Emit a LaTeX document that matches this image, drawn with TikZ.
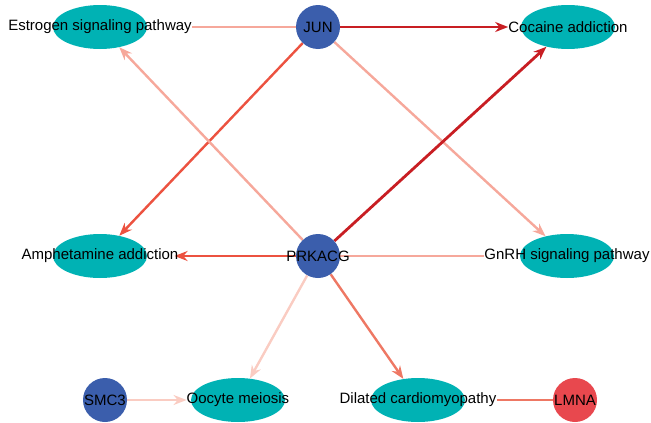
\documentclass[tikz,border=0pt]{standalone}
\usepackage{fontspec}
\setmainfont{Liberation Sans}
\usetikzlibrary{shapes.geometric, arrows.meta, positioning}
\definecolor{genblue}{RGB}{59,94,172}
\definecolor{pathteal}{RGB}{0,178,180}
\definecolor{genred}{RGB}{232,72,78}
\definecolor{edgedark}{RGB}{200,30,35}
\definecolor{edgered}{RGB}{236,82,64}
\definecolor{edgesalmon}{RGB}{238,120,100}
\definecolor{edgepink}{RGB}{246,168,155}
\definecolor{edgelight}{RGB}{250,204,194}
\pgfdeclarelayer{bg}
\pgfsetlayers{bg,main}

\begin{document}
\begin{tikzpicture}[
    x=1pt, y=-1pt,
    font=\fontsize{15}{18}\selectfont,
    gene/.style={circle, fill=genblue, minimum size=44pt, inner sep=0pt},
    pathway/.style={ellipse, fill=pathteal, minimum width=94pt, minimum height=44pt, inner sep=0pt},
    link/.style={line width=2.4pt, -{Stealth[length=13pt, width=10pt]}},
    strong/.style={line width=2.8pt}
]
    \useasboundingbox (0,0) rectangle (651,423);

    % pathways
    \node[pathway, label={[name=estl, inner sep=0pt]center:Estrogen signaling pathway}] (est) at (100,27) {};
    \node[pathway, label={[name=cocl, inner sep=0pt]center:Cocaine addiction}] (coc) at (568,27) {};
    \node[pathway, label={[name=amphl, inner sep=0pt]center:Amphetamine addiction}] (amph) at (100,256) {};
    \node[pathway, label={[name=gnrhl, inner sep=0pt]center:GnRH signaling pathway}] (gnrh) at (567,256) {};
    \node[pathway, label={[name=oocl, inner sep=0pt]center:Oocyte meiosis}] (ooc) at (238,400) {};
    \node[pathway, label={[name=dill, inner sep=0pt]center:Dilated cardiomyopathy}] (dil) at (418,400) {};

    % genes
    \node[gene, label={[name=junl, inner sep=0pt]center:JUN}] (jun) at (318,27) {};
    \node[gene, label={[name=prkl, inner sep=0pt]center:PRKACG}] (prk) at (318,256) {};
    \node[gene, label={[name=smcl, inner sep=0pt]center:SMC3}] (smc) at (105,400) {};
    \node[gene, fill=genred, label={[name=lmnal, inner sep=0pt]center:LMNA}] (lmna) at (575,400) {};

    % edges
    \begin{pgfonlayer}{bg}
        \draw[link, edgepink, -] (jun) -- (estl.east);
        \draw[link, strong, edgedark] (jun) -- (cocl.west);
        \draw[link, edgered] (jun) -- (amph);
        \draw[link, edgepink] (jun) -- (gnrh);
        \draw[link, edgepink] (prk) -- (est);
        \draw[link, strong, edgedark] (prk) -- (coc);
        \draw[link, edgered] (prk) -- ([xshift=-4pt]amphl.east);
        \draw[link, edgepink, -] (prk) -- (gnrhl.west);
        \draw[link, edgelight] (prk) -- (ooc);
        \draw[link, edgesalmon] (prk) -- (dil);
        \draw[link, edgelight] (smc) -- (oocl.west);
        \draw[link, edgesalmon, -] (lmna) -- (dill.east);
    \end{pgfonlayer}
\end{tikzpicture}
\end{document}
